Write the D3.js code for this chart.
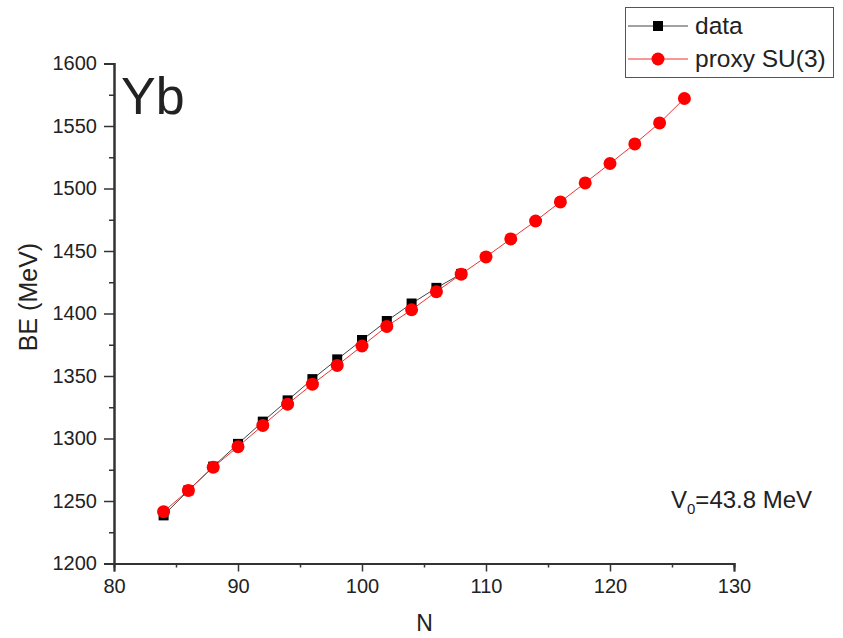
<!DOCTYPE html>
<html>
<head>
<meta charset="utf-8">
<script src="https://cdn.jsdelivr.net/npm/d3@7"></script>
<style>
  body { margin: 0; background: #fff; }
  text { font-family: "Liberation Sans", Arial, sans-serif; fill: #222; }
  .axis path, .axis line { stroke: #333; }
</style>
</head>
<body>
<div id="graf"></div>
<script>
// data (N, BE in MeV)
const nData = [84, 86, 88, 90, 92, 94, 96, 98, 100, 102, 104, 106, 108]
const beData = [1238.5, 1258.5, 1277.5, 1295.7, 1313.5, 1330.5, 1347.5, 1363.3, 1378.8, 1394, 1408, 1420.5, 1431.7]

const nProxy = [84, 86, 88, 90, 92, 94, 96, 98, 100, 102, 104, 106, 108, 110, 112, 114, 116, 118, 120, 122, 124, 126]
const beProxy = [1241.5, 1258.5, 1277, 1293.5, 1310.5, 1327.5, 1343.5, 1358.5, 1374, 1389.7, 1403, 1417.5, 1431.5, 1445.3, 1459.7, 1474, 1489.3, 1504.5, 1520, 1535.7, 1552.5, 1572]

const xTicks = [80, 90, 100, 110, 120, 130]
const yTicks = [1200, 1250, 1300, 1350, 1400, 1450, 1500, 1550, 1600]

const anchoTotal = 843
const altoTotal = 638
const margins = { top: 63.5, right: 109, bottom: 74.5, left: 114 }
const ancho = anchoTotal - margins.left - margins.right
const alto = altoTotal - margins.top - margins.bottom

const svg = d3.select("#graf").append("svg")
    .attr("width", anchoTotal)
    .attr("height", altoTotal)

const g = svg.append("g")
    .attr("transform", `translate(${margins.left}, ${margins.top})`)

// escalas
const x = d3.scaleLinear().domain([80, 130]).range([0, ancho])
const y = d3.scaleLinear().domain([1200, 1600]).range([alto, 0])

// ejes: minor ticks first, then major
g.append("g")
    .attr("transform", `translate(0,${alto})`)
    .classed("axis", true)
    .call(d3.axisBottom(x).tickValues(d3.range(85, 130, 10)).tickSize(4).tickFormat(""))
g.append("g")
    .classed("axis", true)
    .call(d3.axisLeft(y).tickValues(d3.range(1225, 1600, 50)).tickSize(5).tickFormat(""))

const xAxisG = g.append("g")
    .attr("transform", `translate(0,${alto})`)
    .classed("axis", true)
    .call(d3.axisBottom(x).tickValues(xTicks).tickSize(8).tickPadding(7).tickFormat(d3.format("d")))
const yAxisG = g.append("g")
    .classed("axis", true)
    .call(d3.axisLeft(y).tickValues(yTicks).tickSize(10).tickPadding(7).tickFormat(d3.format("d")))

g.selectAll(".axis path").attr("stroke-width", 2)
g.selectAll(".axis line").attr("stroke-width", 1.5)
xAxisG.selectAll("text").attr("font-size", 20).attr("fill", "#333").attr("font-family", "Liberation Sans, Arial")
yAxisG.selectAll("text").attr("font-size", 20).attr("fill", "#333").attr("font-family", "Liberation Sans, Arial")

// titulos de ejes
svg.append("text")
    .attr("x", 424.5)
    .attr("y", 631)
    .attr("text-anchor", "middle")
    .attr("font-size", 23)
    .text("N")

svg.append("text")
    .attr("transform", "translate(37,297) rotate(-90)")
    .attr("text-anchor", "middle")
    .attr("font-size", 25)
    .text("BE (MeV)")

svg.append("text")
    .attr("x", 121)
    .attr("y", 114)
    .attr("font-size", 52)
    .attr("fill", "#111")
    .text("Yb")

const v0 = svg.append("text")
    .attr("x", 671)
    .attr("y", 508)
    .attr("font-size", 24)
v0.append("tspan").text("V")
v0.append("tspan").attr("font-size", 15).attr("dy", 6).text("0")
v0.append("tspan").attr("dy", -6).text("=43.8 MeV")

// lineas
const line = d3.line().x(d => x(d[0])).y(d => y(d[1]))
const dataPts = nData.map((n, i) => [n, beData[i]])
const proxyPts = nProxy.map((n, i) => [n, beProxy[i]])

g.append("path").datum(dataPts)
    .attr("d", line).attr("fill", "none").attr("stroke", "#444").attr("stroke-width", 1)
g.append("path").datum(proxyPts)
    .attr("d", line).attr("fill", "none").attr("stroke", "#e33").attr("stroke-width", 1)

g.selectAll(".sq").data(dataPts).enter().append("rect")
    .attr("x", d => x(d[0]) - 5)
    .attr("y", d => y(d[1]) - 5)
    .attr("width", 10).attr("height", 10)
    .attr("fill", "#000")

g.selectAll(".dot").data(proxyPts).enter().append("circle")
    .attr("cx", d => x(d[0]))
    .attr("cy", d => y(d[1]))
    .attr("r", 6.5)
    .attr("fill", "#f00")

// leyenda
const ley = svg.append("g")
ley.append("rect")
    .attr("x", 625.5).attr("y", 7.5)
    .attr("width", 208).attr("height", 70)
    .attr("fill", "#fff").attr("stroke", "#555").attr("stroke-width", 1)

const items = [
    { nombre: "data", color: "#444", fill: "#000", tipo: "sq" },
    { nombre: "proxy SU(3)", color: "#e33", fill: "#f00", tipo: "dot" }
]
items.forEach((it, i) => {
    const yy = 26 + i * 33
    ley.append("line").attr("x1", 628).attr("x2", 688).attr("y1", yy).attr("y2", yy)
        .attr("stroke", it.color).attr("stroke-width", 1)
    if (it.tipo === "sq") {
        ley.append("rect").attr("x", 653).attr("y", yy - 5).attr("width", 10).attr("height", 10).attr("fill", it.fill)
    } else {
        ley.append("circle").attr("cx", 658).attr("cy", yy).attr("r", 6.5).attr("fill", it.fill)
    }
    ley.append("text").attr("x", 695).attr("y", yy + 8)
        .attr("font-size", 24.5).text(it.nombre)
})
</script>
</body>
</html>
